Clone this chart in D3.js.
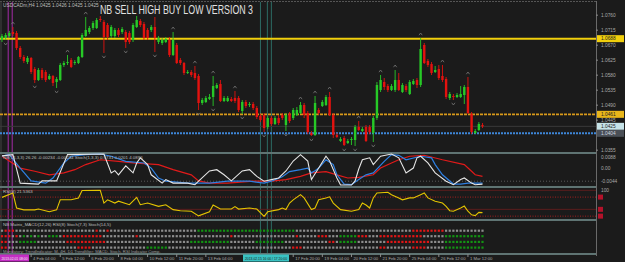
<!doctype html>
<html>
<head>
<meta charset="utf-8">
<title>NB Sell High Buy Low</title>
<script src="https://d3js.org/d3.v7.min.js"></script>
<style>
  body { margin:0; background:#1b1b1b; }
  svg { display:block; font-family:"Liberation Sans", Arial, sans-serif; }
</style>
</head>
<body>
<script>
// ---- data: USDCAD H4 candles, prices in points (1/10000) ----
var openP = [10684,10690,10696,10708,10705,10660,10633,10618,10630,10597,
  10564,10594,10588,10567,10576,10558,10564,10609,10615,10624,
  10615,10615,10633,10696,10708,10720,10720,10747,10738,10729,
  10696,10696,10714,10708,10708,10705,10684,10723,10741,10732,
  10714,10714,10723,10678,10675,10678,10684,10639,10669,10624,
  10615,10585,10588,10585,10576,10495,10498,10507,10513,10540,
  10552,10501,10501,10507,10510,10510,10471,10498,10489,10492,
  10480,10456,10459,10423,10450,10432,10450,10459,10429,10462,
  10450,10459,10465,10489,10465,10405,10399,10474,10486,10489,
  10513,10459,10399,10381,10390,10375,10384,10384,10423,10411,
  10423,10423,10405,10450,10534,10558,10546,10534,10534,10564,
  10528,10546,10522,10552,10564,10549,10669,10621,10612,10588,
  10597,10576,10567,10510,10516,10513,10513,10519,10543,10462,
  10405,10414,10429];
var highP = [10702,10705,10711,10723,10711,10666,10639,10636,10633,10603,
  10600,10600,10594,10582,10579,10573,10615,10621,10639,10630,
  10624,10636,10705,10753,10726,10741,10750,10756,10744,10735,
  10729,10720,10720,10723,10714,10711,10735,10756,10747,10738,
  10720,10729,10753,10696,10690,10693,10693,10708,10675,10630,
  10618,10594,10594,10606,10582,10510,10516,10522,10576,10555,
  10564,10516,10516,10513,10531,10516,10504,10504,10498,10498,
  10486,10462,10465,10456,10456,10456,10459,10465,10465,10468,
  10480,10483,10498,10495,10471,10411,10516,10480,10504,10519,
  10528,10465,10405,10393,10396,10387,10393,10429,10441,10423,
  10429,10429,10456,10558,10579,10570,10552,10552,10594,10585,
  10555,10552,10564,10567,10570,10690,10675,10627,10618,10606,
  10609,10609,10573,10528,10522,10525,10546,10549,10573,10468,
  10417,10438,10435];
var lowP = [10678,10684,10690,10696,10654,10627,10615,10612,10582,10555,
  10561,10564,10558,10564,10546,10540,10561,10603,10609,10600,
  10609,10612,10630,10693,10702,10714,10717,10738,10645,10684,
  10690,10690,10693,10702,10660,10672,10678,10720,10723,10684,
  10684,10708,10648,10672,10669,10675,10633,10636,10612,10609,
  10579,10582,10573,10564,10474,10489,10495,10504,10486,10537,
  10498,10498,10498,10498,10495,10468,10462,10480,10483,10474,
  10447,10438,10408,10417,10426,10429,10429,10444,10411,10435,
  10444,10456,10462,10450,10402,10396,10396,10459,10483,10486,
  10456,10390,10390,10378,10366,10372,10369,10366,10411,10408,
  10378,10402,10378,10444,10528,10534,10528,10531,10528,10531,
  10525,10528,10519,10549,10540,10543,10612,10603,10579,10585,
  10564,10558,10507,10504,10504,10510,10510,10492,10462,10402,
  10402,10411,10420];
var closeP = [10696,10699,10705,10702,10660,10633,10621,10630,10588,10564,
  10594,10570,10564,10576,10555,10567,10609,10615,10618,10603,
  10618,10633,10699,10714,10720,10735,10744,10744,10693,10693,
  10723,10714,10699,10717,10678,10678,10729,10744,10729,10690,
  10690,10723,10690,10690,10684,10687,10639,10684,10615,10615,
  10585,10588,10579,10570,10495,10504,10510,10513,10546,10549,
  10501,10510,10510,10501,10501,10474,10498,10486,10492,10480,
  10453,10444,10420,10450,10432,10450,10435,10450,10459,10441,
  10474,10474,10489,10459,10408,10399,10495,10465,10498,10513,
  10459,10399,10393,10387,10369,10381,10387,10423,10414,10417,
  10381,10408,10450,10549,10564,10543,10534,10546,10564,10534,
  10549,10534,10558,10561,10549,10657,10615,10609,10585,10594,
  10570,10564,10513,10522,10513,10519,10522,10543,10465,10408,
  10411,10432,10425];

// fractal bars (upper / lower)
var fractalUp = [3,18,23,47,53,58,64,82,86,90,98,104,108,115,121,128];
var fractalDown = [1,9,15,28,34,42,54,58,66,72,78,85,94,97,102,124];

// horizontal levels, bid, vertical markers (bar positions)
var yellowLevel = 10688, orangeLevel = 10461, blueLevel = 10404, bidPrice = 10425;
var purpleBars = [1.7, 2.8];
var tealBars = [71, 72.9, 74];

// right axis ticks
var priceTicks = [10760,10715,10670,10625,10580,10535,10490,10445,10355];

// stochastic pane: [bar, value]
var stochMain = [[0,94],[3,98],[5,9],[10,6],[11,16],[15,16],[18,98],[28,100],[30,41],[31,48],
  [32,35],[34,63],[36,41],[37,72],[38,88],[40,67],[41,35],[44,9],[45,20],[47,9],[51,9],[53,4],
  [54,15],[57,47],[59,51],[61,35],[63,16],[66,47],[68,51],[70,30],[72,15],[74,20],[76,25],
  [78,47],[80,78],[82,98],[84,78],[85,20],[87,56],[89,93],[90,78],[92,25],[93,3],[96,3],
  [97,16],[98,53],[99,82],[101,88],[102,67],[104,93],[107,100],[109,88],[111,41],[113,56],
  [114,88],[115,93],[117,72],[119,41],[122,15],[124,4],[126,20],[127,25],[129,9],[130,4],[132,6]];
var stochSignal = [[0,94],[2,98],[5,56],[8,16],[12,9],[14,25],[17,72],[19,93],[23,98],[27,100],
  [30,93],[34,77],[39,72],[41,56],[43,25],[45,15],[51,9],[57,9],[62,15],[68,15],[72,9],[74,15],
  [77,29],[79,45],[82,51],[84,56],[85,41],[86,48],[87,56],[89,82],[91,67],[92,35],[94,6],
  [96,4],[98,20],[100,35],[102,41],[105,77],[107,98],[109,96],[111,82],[115,93],[118,88],
  [119,67],[121,35],[124,6],[126,6],[128,9],[132,9]];
var stochSlow = [[0,93],[5,56],[9,46],[13,35],[17,41],[20,51],[23,67],[27,82],[32,77],[36,72],
  [43,67],[47,51],[52,35],[54,16],[57,9],[62,9],[69,15],[74,15],[78,20],[82,30],[85,41],
  [89,45],[92,35],[95,25],[98,27],[102,35],[104,56],[107,72],[109,82],[112,93],[116,96],
  [121,82],[127,67],[129,46],[130,35],[132,30]];

// RSI(8): [bar, value]
var rsi = [[0,74],[3,90],[4,35],[6,28],[9,28],[10,31],[13,21],[15,28],[16,65],[19,65],[21,72],
  [22,99],[27,100],[28,53],[29,65],[31,53],[32,60],[35,47],[37,74],[38,47],[40,53],[43,41],
  [45,47],[47,29],[49,25],[52,23],[54,6],[57,21],[58,46],[60,31],[63,31],[64,40],[65,31],
  [68,35],[70,31],[72,4],[73,21],[76,29],[77,35],[78,29],[79,53],[80,65],[82,84],[83,72],
  [85,29],[86,35],[87,65],[89,72],[90,76],[91,53],[93,29],[96,23],[98,29],[99,53],[100,46],
  [101,35],[102,72],[103,90],[106,93],[107,84],[109,72],[110,65],[112,72],[113,72],[115,84],
  [116,90],[117,72],[119,60],[121,53],[122,41],[123,25],[124,23],[126,35],[127,42],[128,23],
  [129,10],[130,7],[131,19],[132,18]];
var rsiLevels = [75, 30, 5];

// NB matrix rows: runs of [from, to, colour], everything else grey
var matrixRows = [
  [[1,3,"r"],[26,26,"r"],[29,29,"r"],[54,80,"g"],[113,121,"r"]],
  [[0,2,"r"],[4,4,"r"],[6,6,"g"],[8,8,"g"],[10,10,"g"],[13,15,"g"],[17,27,"r"],[37,37,"r"],
   [63,63,"r"],[81,81,"r"],[87,89,"r"],[93,97,"g"],[98,100,"r"],[104,115,"r"],[122,132,"g"]],
  [[0,1,"r"],[5,9,"g"],[18,28,"r"],[52,62,"g"],[70,77,"g"],[90,91,"r"],[93,97,"g"],
   [106,117,"r"],[122,132,"g"]],
  [[0,1,"r"],[21,24,"r"],[40,45,"g"],[80,82,"r"],[104,105,"r"],[113,116,"r"],[122,132,"g"]]
];

// time axis (the bar 72 label sits under the crosshair box)
var timeTickBars = [8,16,24,32,40,48,56,80,88,96,104,112,120,128];
var timeLabels = ["4 Feb 04:00","5 Feb 12:00","6 Feb 20:00","8 Feb 04:00","10 Feb 12:00",
  "11 Feb 20:00","13 Feb 04:00","17 Feb 20:00","19 Feb 04:00","20 Feb 12:00",
  "21 Feb 20:00","25 Feb 04:00","26 Feb 12:00","1 Mar 12:00"];

// ---- drawing ----
var W = 625, H = 262, plotR = 596;
var bg = "#1b1b1b", axisTxt = "#a9a9a9", sepCol = "#5f7473";

var svg = d3.select("body").append("svg").attr("width", W).attr("height", H);
svg.append("rect").attr("width", W).attr("height", H).attr("fill", bg);

var x = d3.scaleLinear().domain([0, 132]).range([2, 482.5]);
var y = d3.scaleLinear().domain([10804, 10345]).range([0, 153]);
var yS = d3.scaleLinear().domain([0, 100]).range([186, 154]);
var yR = d3.scaleLinear().domain([0, 100]).range([217.5, 190.3]);

var defs = svg.append("defs");
defs.append("clipPath").attr("id", "cMain").append("rect").attr("x", 0).attr("y", 2).attr("width", plotR).attr("height", 150);

// frame
svg.append("line").attr("x1", 0).attr("x2", plotR).attr("y1", 1.5).attr("y2", 1.5)
  .attr("stroke", "#555").attr("stroke-dasharray", "2,1");
svg.append("line").attr("x1", 1).attr("x2", 1).attr("y1", 1).attr("y2", 254).attr("stroke", "#444");
svg.append("line").attr("x1", plotR + 0.5).attr("x2", plotR + 0.5).attr("y1", 1).attr("y2", 256).attr("stroke", "#6a6a6a");

// vertical marker lines
svg.selectAll(".vp").data(purpleBars).enter().append("line")
  .attr("x1", d => x(d)).attr("x2", d => x(d)).attr("y1", 2).attr("y2", 254)
  .attr("stroke", "#a52aa8").attr("stroke-width", 1);
svg.selectAll(".vt").data(tealBars).enter().append("line")
  .attr("x1", d => x(d)).attr("x2", d => x(d)).attr("y1", 2).attr("y2", 254)
  .attr("stroke", "#2d6b64").attr("stroke-width", 1);

var main = svg.append("g").attr("clip-path", "url(#cMain)");

// levels
main.append("line").attr("x1", 0).attr("x2", plotR).attr("y1", y(bidPrice)).attr("y2", y(bidPrice))
  .attr("stroke", "#3a3a3a").attr("stroke-width", 1);
main.append("line").attr("x1", 0).attr("x2", plotR).attr("y1", y(yellowLevel)).attr("y2", y(yellowLevel))
  .attr("stroke", "#f1cf0c").attr("stroke-width", 2);
main.append("line").attr("x1", 0).attr("x2", plotR).attr("y1", y(orangeLevel)).attr("y2", y(orangeLevel))
  .attr("stroke", "#d99a1a").attr("stroke-width", 1.6).attr("stroke-dasharray", "3,1");
main.append("line").attr("x1", 0).attr("x2", plotR).attr("y1", y(blueLevel)).attr("y2", y(blueLevel))
  .attr("stroke", "#3e86d8").attr("stroke-width", 2).attr("stroke-dasharray", "2,1");

// candles
var bars = d3.range(closeP.length);
var up = "#27c927", dn = "#e3120f";
main.selectAll(".wick").data(bars).enter().append("line")
  .attr("x1", i => x(i)).attr("x2", i => x(i))
  .attr("y1", i => y(highP[i])).attr("y2", i => y(lowP[i]))
  .attr("stroke", i => closeP[i] >= openP[i] ? up : dn).attr("stroke-width", 0.9);
main.selectAll(".body").data(bars).enter().append("rect")
  .attr("x", i => x(i) - 1.2).attr("width", 2.4)
  .attr("y", i => y(Math.max(openP[i], closeP[i])))
  .attr("height", i => Math.max(1, Math.abs(y(openP[i]) - y(closeP[i]))))
  .attr("fill", i => closeP[i] >= openP[i] ? up : dn);

// fractals
main.selectAll(".fu").data(fractalUp).enter().append("path")
  .attr("d", i => { var cx = x(i), cy = y(highP[i]) - 4; return "M" + (cx - 1.6) + "," + (cy + 1.2) + "L" + cx + "," + (cy - 1) + "L" + (cx + 1.6) + "," + (cy + 1.2); })
  .attr("fill", "none").attr("stroke", "#777").attr("stroke-width", 0.8);
main.selectAll(".fd").data(fractalDown).enter().append("path")
  .attr("d", i => { var cx = x(i), cy = y(lowP[i]) + 4; return "M" + (cx - 1.6) + "," + (cy - 1.2) + "L" + cx + "," + (cy + 1) + "L" + (cx + 1.6) + "," + (cy - 1.2); })
  .attr("fill", "none").attr("stroke", "#777").attr("stroke-width", 0.8);

// pane separators
[153, 187, 220, 254].forEach(function (sy) {
  svg.append("line").attr("x1", 0).attr("x2", plotR).attr("y1", sy).attr("y2", sy)
    .attr("stroke", sepCol).attr("stroke-width", 2);
});

// header + title
svg.append("text").attr("x", 3).attr("y", 7).attr("font-size", 4.8).attr("fill", "#bdbdbd")
  .text("USDCADm,H4  1.0425 1.0426 1.0425 1.0425");
svg.append("text").attr("x", 100).attr("y", 13.5).attr("font-size", 12.5).attr("fill", "#e2e2e2")
  .attr("textLength", 153).attr("lengthAdjust", "spacingAndGlyphs")
  .text("NB SELL HIGH BUY LOW VERSION 3");

// right price axis
var ax = svg.append("g").attr("transform", "translate(" + plotR + ",0)")
  .call(d3.axisRight(y).tickValues(priceTicks).tickSize(2).tickFormat(d => (d / 10000).toFixed(4)));
ax.select(".domain").remove();
ax.selectAll("line").attr("stroke", "#8a8a8a");
ax.selectAll("text").attr("fill", axisTxt).attr("font-size", 4.8).attr("x", 5);

function priceBox(p, fill, txt) {
  var cy = y(p);
  svg.append("rect").attr("x", 597).attr("y", cy - 3.5).attr("width", 27).attr("height", 7).attr("fill", fill);
  svg.append("text").attr("x", 601).attr("y", cy + 1.7).attr("font-size", 4.8).attr("fill", txt)
    .text((p / 10000).toFixed(4));
}
priceBox(yellowLevel, "#f1cf0c", "#222");
priceBox(orangeLevel, "#e9b61a", "#222");
priceBox(bidPrice, "#c6e3e8", "#222");
priceBox(blueLevel, "#4a4f56", "#cfd8e0");

// stochastic pane
svg.append("line").attr("x1", 0).attr("x2", plotR).attr("y1", yS(15)).attr("y2", yS(15))
  .attr("stroke", "#5a5a5a").attr("stroke-dasharray", "1,2");
var ln = d3.line().x(d => x(d[0]));
svg.append("path").datum(stochSlow).attr("d", ln.y(d => yS(d[1]))).attr("fill", "none").attr("stroke", "#e01a1a").attr("stroke-width", 1.2);
svg.append("path").datum(stochSignal).attr("d", ln.y(d => yS(d[1]))).attr("fill", "none").attr("stroke", "#2e80e3").attr("stroke-width", 1.2);
svg.append("path").datum(stochMain).attr("d", ln.y(d => yS(d[1]))).attr("fill", "none").attr("stroke", "#e6e6e6").attr("stroke-width", 1.1);
svg.append("text").attr("x", 3).attr("y", 158.5).attr("font-size", 4.4).attr("fill", "#bdbdbd")
  .text("NB(14,3,3) 26.26 -0.00234 -0.00234  Stoch(1,3,3)  0.9731  0.0201  4.0896");
[["0.0088", 157], ["0.00", 168.7], ["-0.0044", 181.3]].forEach(function (t) {
  svg.append("text").attr("x", 601).attr("y", t[1] + 1.7).attr("font-size", 4.8).attr("fill", axisTxt).text(t[0]);
});

// RSI pane
svg.append("line").attr("x1", 0).attr("x2", plotR).attr("y1", yR(100)).attr("y2", yR(100)).attr("stroke", "#5c1d1d");
rsiLevels.forEach(function (v, k) {
  svg.append("line").attr("x1", 0).attr("x2", plotR).attr("y1", yR(v)).attr("y2", yR(v))
    .attr("stroke", k === 1 ? "#5c1d1d" : "#a51f1f").attr("stroke-dasharray", k === 1 ? null : "1,1.5");
});
svg.append("path").datum(rsi).attr("d", ln.y(d => yR(d[1]))).attr("fill", "none").attr("stroke", "#e4c400").attr("stroke-width", 1.1);
svg.append("text").attr("x", 3).attr("y", 193).attr("font-size", 4.4).attr("fill", "#bdbdbd").text("RSI(8) 21.5363");
svg.append("text").attr("x", 601).attr("y", yR(100) + 1.7).attr("font-size", 4.8).attr("fill", axisTxt).text("100");
rsiLevels.forEach(function (v) {
  svg.append("rect").attr("x", 598).attr("y", yR(v) - 2.5).attr("width", 5).attr("height", 5).attr("fill", "#b3122a");
});

// matrix pane
var rowY = [230.7, 236.2, 241.9, 247.6];
var mCol = { r: "#e01616", g: "#139313" };
matrixRows.forEach(function (runs, r) {
  var cells = bars.map(function (i) {
    var c = "#8d8d8d";
    runs.forEach(function (run) { if (i >= run[0] && i <= run[1]) c = mCol[run[2]]; });
    return { i: i, c: c };
  });
  svg.selectAll(".m" + r).data(cells).enter().append("rect")
    .attr("x", d => x(d.i) - 1.1).attr("y", rowY[r] - 1.1).attr("width", 2.2).attr("height", 2.2)
    .attr("fill", d => d.c);
});
svg.append("text").attr("x", 3).attr("y", 226.3).attr("font-size", 4.4).attr("fill", "#bdbdbd")
  .text("NB Matrix_MACD(12,26) RSI(8) Stoch(7,3) Stoch(14,5)");
svg.append("text").attr("x", 3).attr("y", 252.5).attr("font-size", 4.2).attr("fill", "#9a9a9a")
  .text("Mandatory: TrendIndicator: M, 4H, D1 Trendfilter: MACD, Stoch, RSI  Indicator Comp.");

// time axis
var tg = svg.append("g");
tg.selectAll("line").data(timeTickBars).enter().append("line")
  .attr("x1", i => x(i)).attr("x2", i => x(i)).attr("y1", 254).attr("y2", 257).attr("stroke", "#8a8a8a");
tg.selectAll("text").data(timeTickBars).enter().append("text")
  .attr("x", i => x(i) + 2).attr("y", 260).attr("font-size", 4.2).attr("fill", axisTxt)
  .text((d, k) => timeLabels[k]);
svg.append("rect").attr("x", 0).attr("y", 254.5).attr("width", 29).attr("height", 7).attr("fill", "#c42dc4");
svg.append("text").attr("x", 1.5).attr("y", 260).attr("font-size", 4).attr("fill", "#f0f0f0")
  .attr("textLength", 26).attr("lengthAdjust", "spacingAndGlyphs").text("2013.02.01 08:00");
svg.append("rect").attr("x", 243).attr("y", 254.5).attr("width", 46).attr("height", 7).attr("fill", "#39c2c2");
svg.append("text").attr("x", 245).attr("y", 260).attr("font-size", 4).attr("fill", "#1b1b1b")
  .attr("textLength", 42).attr("lengthAdjust", "spacingAndGlyphs").text("2013.02.15 16:00 / 17 20:00");
</script>
</body>
</html>
